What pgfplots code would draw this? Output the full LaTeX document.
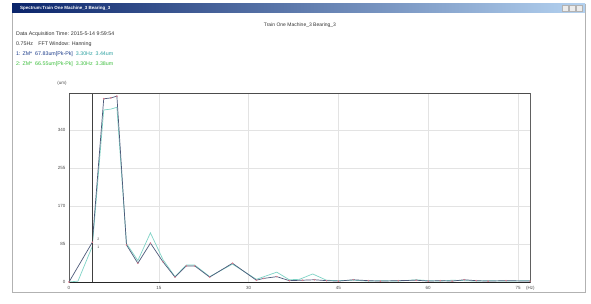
\documentclass[border=0pt]{standalone}
\usepackage{pgfplots}
\pgfplotsset{compat=1.18}
\usepackage{fontspec}
\setmainfont{Liberation Sans}
\definecolor{sone}{HTML}{4E5A7A}
\definecolor{stwo}{HTML}{7ED3C6}
\definecolor{sred}{HTML}{E07A8A}
\definecolor{barL}{HTML}{0A246A}
\definecolor{barR}{HTML}{B4D2F0}
\definecolor{lblue}{HTML}{1A3A8A}
\definecolor{lteal}{HTML}{2AA0A0}
\definecolor{lgreen}{HTML}{3CBF3C}
\pgfplotstableread{
f v
0 0
3.9 89
5.8 410
7.0 412
8.0 416
9.6 83
11.5 42
13.6 87
15.7 45
17.7 11
19.6 36
21.0 36
23.5 11
27.3 42
31.3 4
32.5 8
34.7 12
36.8 3
39 4
41 5
43 3
45 2
47.5 5
50 3
52 2
55 3
58 4
60 2
62 3
64 2
66 5
68 3
70 2
73 3
77 2
}\seriesone
\pgfplotstableread{
f v
0 0
1.5 2
3.9 80
5.8 385
7.0 387
8.0 391
9.6 86
11.5 48
13.6 110
15.7 50
17.7 12
19.6 38
21.0 38
23.5 12
27.3 40
31.3 6
34.7 22
36.8 5
38.5 6
40.7 18
43 4
45 3
47.5 4
50 2
52 3
55 2
58 5
60 3
62 2
64 4
66 3
68 2
70 3
73 2
77 3
}\seriestwo
\begin{document}
\begin{tikzpicture}[x=1pt,y=1pt]
\fill[white] (0,0) rectangle (591,303);
% window frame
\draw[gray!60, line width=0.6pt] (12,11) rectangle (585,299);
\shade[left color=barL, right color=barR] (12,290) rectangle (585,299);
\node[anchor=west, text=white, font=\fontsize{4.5}{5}\selectfont\bfseries, inner sep=0pt] at (20,294.5) {Spectrum:Train One Machine\_3 Bearing\_3};
\foreach \xx in {565,572,579}{\fill[gray!15] (\xx-3,291.5) rectangle (\xx+3,297.5); \draw[gray!60,line width=0.2pt] (\xx-3,291.5) rectangle (\xx+3,297.5);}
% header texts
\node[font=\fontsize{5}{6}\selectfont, text=black!80, inner sep=0pt] at (300,278) {Train One Machine\_3 Bearing\_3};
\begin{scope}[every node/.style={anchor=west, inner sep=0pt, font=\fontsize{5.3}{6}\selectfont}]
\node[text=black!80] at (16,269) {Data Acquisition Time: 2015-5-14 9:59:54};
\node[text=black!80] at (16,258.5) {0.75Hz\quad FFT Window: Hanning};
\node at (16,248.5) {\textcolor{lblue}{1: ZM*\ \ 67.83um[Pk-Pk]}\ \ \textcolor{lteal}{3.30Hz\ \ 3.44um}};
\node[text=lgreen] at (16,239) {2: ZM*\ \ 66.55um[Pk-Pk]\ \ 3.30Hz\ \ 3.38um};
\end{scope}
\node[font=\fontsize{4.5}{5}\selectfont, text=black!70, inner sep=0pt] at (62,220) {(um)};
\node[font=\fontsize{4.5}{5}\selectfont, text=black!70, anchor=west, inner sep=0pt] at (526,15) {(Hz)};
\begin{axis}[
  at={(69pt,21pt)}, anchor=south west,
  scale only axis, width=461pt, height=189pt,
  xmin=0, xmax=77, ymin=0, ymax=423,
  xtick={0,15,30,45,60,75},
  ytick={0,85,170,255,340},
  grid=major,
  grid style={gray!22, line width=0.3pt},
  axis line style={gray!75!black, line width=0.6pt},
  major tick length=0pt,
  ticklabel style={font=\fontsize{4.5}{5}\selectfont, text=black!70},
  xticklabel style={yshift=-1pt},
  /pgf/number format/assume math mode=true,
  clip=false,
]
\addplot[stwo, line width=0.7pt] table[x=f,y=v] {\seriestwo};
\addplot[sone, line width=0.7pt, mark=*, mark size=0.35pt, mark options={sred, draw=none}] table[x=f,y=v] {\seriesone};
\draw[gray!50!black, line width=0.6pt] (axis cs:3.9,0) -- (axis cs:3.9,423);
\draw[black!85, line width=0.7pt] (axis cs:0,0) -- (axis cs:77,0);
\draw[gray!60!black, line width=0.9pt] (axis cs:0,423) -- (axis cs:77,423);
\node[font=\fontsize{3.5}{4}\selectfont, text=black!70, inner sep=0pt] at (axis cs:4.9,95) {2};
\node[font=\fontsize{3.5}{4}\selectfont, text=black!70, inner sep=0pt] at (axis cs:4.9,78) {1};
\end{axis}
\end{tikzpicture}
\end{document}
